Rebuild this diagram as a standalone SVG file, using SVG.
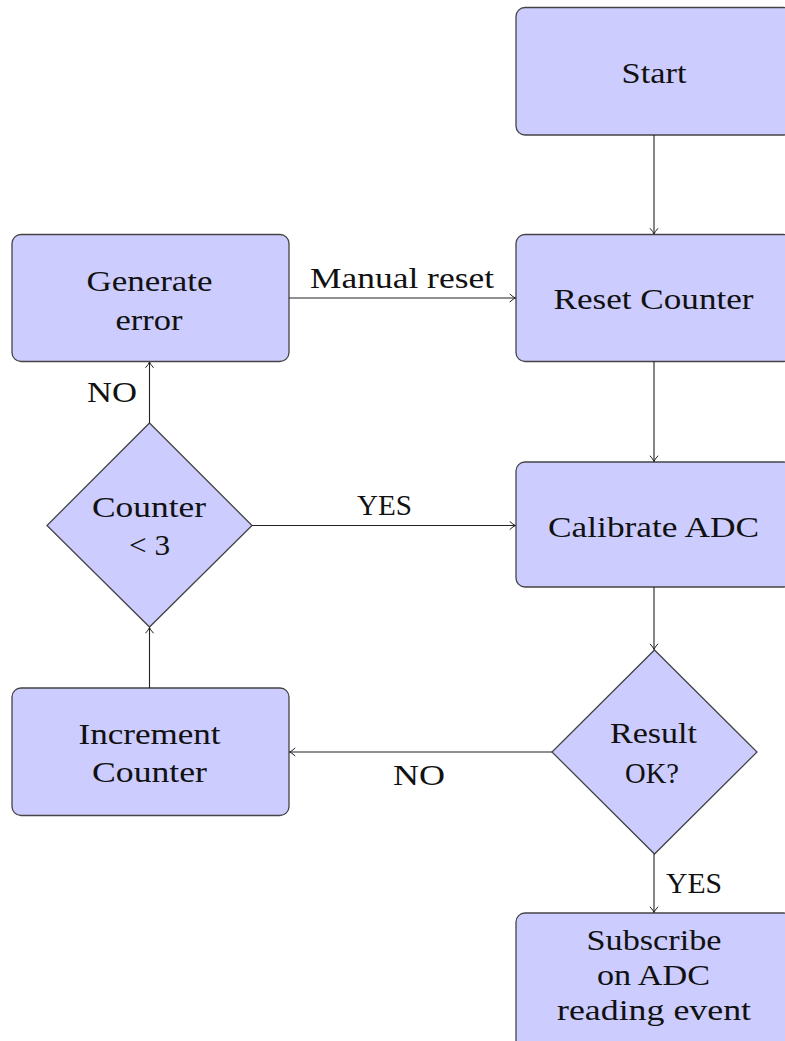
<svg xmlns="http://www.w3.org/2000/svg" width="785" height="1041" viewBox="0 0 785 1041">
  <defs>
    <marker id="arrow" viewBox="-7 -5 8 10" refX="0" refY="0" markerWidth="8" markerHeight="10" markerUnits="userSpaceOnUse" orient="auto">
      <path d="M -5.5 -3.8 Q -2 -0.6 0 0 Q -2 0.6 -5.5 3.8" fill="none" stroke="#222" stroke-width="1" stroke-linecap="round" stroke-linejoin="round"/>
    </marker>
    <style>
      .box { fill: #ccccff; stroke: #444; stroke-width: 1.3; }
      .lbl { font-family: "Liberation Serif", "Times New Roman", serif; font-size: 30px; fill: #111; text-anchor: middle; }
      .edge { fill: none; stroke: #222; stroke-width: 1.1; marker-end: url(#arrow); }
    </style>
  </defs>
  <rect width="785" height="1041" fill="#ffffff"/>

  <!-- process boxes -->
  <g id="start">
    <rect class="box" x="516" y="7.5" width="276" height="127.5" rx="9"/>
    <text class="lbl" x="654" y="83" textLength="65" lengthAdjust="spacingAndGlyphs">Start</text>
  </g>
  <g id="reset-counter">
    <rect class="box" x="516" y="234.5" width="276" height="127" rx="9"/>
    <text class="lbl" x="653.5" y="309" textLength="200" lengthAdjust="spacingAndGlyphs">Reset Counter</text>
  </g>
  <g id="calibrate-adc">
    <rect class="box" x="516" y="462" width="276" height="125" rx="9"/>
    <text class="lbl" x="653.5" y="537" textLength="211" lengthAdjust="spacingAndGlyphs">Calibrate ADC</text>
  </g>
  <g id="generate-error">
    <rect class="box" x="12" y="234.5" width="277" height="127" rx="9"/>
    <text class="lbl" x="149.5" y="291" textLength="126" lengthAdjust="spacingAndGlyphs">Generate</text>
    <text class="lbl" x="149" y="330" textLength="67" lengthAdjust="spacingAndGlyphs">error</text>
  </g>
  <g id="increment-counter">
    <rect class="box" x="12" y="688" width="277" height="127.5" rx="9"/>
    <text class="lbl" x="149.5" y="744" textLength="142" lengthAdjust="spacingAndGlyphs">Increment</text>
    <text class="lbl" x="149.5" y="782" textLength="115" lengthAdjust="spacingAndGlyphs">Counter</text>
  </g>
  <g id="subscribe">
    <rect class="box" x="516" y="913" width="276" height="140" rx="9"/>
    <text class="lbl" x="654" y="950" textLength="135" lengthAdjust="spacingAndGlyphs">Subscribe</text>
    <text class="lbl" x="653.5" y="985" textLength="113" lengthAdjust="spacingAndGlyphs">on ADC</text>
    <text class="lbl" x="654" y="1020" textLength="194" lengthAdjust="spacingAndGlyphs">reading event</text>
  </g>

  <!-- decisions -->
  <g id="counter-check">
    <polygon class="box" points="149.5,423 252,525.5 149.5,627 47,525.5"/>
    <text class="lbl" x="149" y="517" textLength="114" lengthAdjust="spacingAndGlyphs">Counter</text>
    <text class="lbl" x="149.5" y="555" textLength="41" lengthAdjust="spacingAndGlyphs">&lt; 3</text>
  </g>
  <g id="result-ok">
    <polygon class="box" points="654.5,650 757,752 654.5,854 552,752"/>
    <text class="lbl" x="653.5" y="743" textLength="87" lengthAdjust="spacingAndGlyphs">Result</text>
    <text class="lbl" x="652" y="783" textLength="54" lengthAdjust="spacingAndGlyphs">OK?</text>
  </g>

  <!-- connectors -->
  <g id="connectors">
    <line class="edge" x1="654" y1="135" x2="654" y2="234"/>
    <line class="edge" x1="654" y1="361.5" x2="654" y2="461.5"/>
    <line class="edge" x1="654" y1="587" x2="654" y2="649.5"/>
    <line class="edge" x1="654" y1="854" x2="654" y2="912.5"/>
    <line class="edge" x1="552" y1="752" x2="289.5" y2="752"/>
    <line class="edge" x1="149.5" y1="688" x2="149.5" y2="627.5"/>
    <line class="edge" x1="149.5" y1="423" x2="149.5" y2="362"/>
    <line class="edge" x1="252" y1="525.5" x2="515.5" y2="525.5"/>
    <line class="edge" x1="289" y1="298" x2="515.5" y2="298"/>

    <text class="lbl" x="402" y="288" textLength="184" lengthAdjust="spacingAndGlyphs">Manual reset</text>
    <text class="lbl" x="384.5" y="515" textLength="55" lengthAdjust="spacingAndGlyphs">YES</text>
    <text class="lbl" x="112" y="402" textLength="50" lengthAdjust="spacingAndGlyphs">NO</text>
    <text class="lbl" x="419" y="785" textLength="52" lengthAdjust="spacingAndGlyphs">NO</text>
    <text class="lbl" x="694" y="893" textLength="56" lengthAdjust="spacingAndGlyphs">YES</text>
  </g>
</svg>
